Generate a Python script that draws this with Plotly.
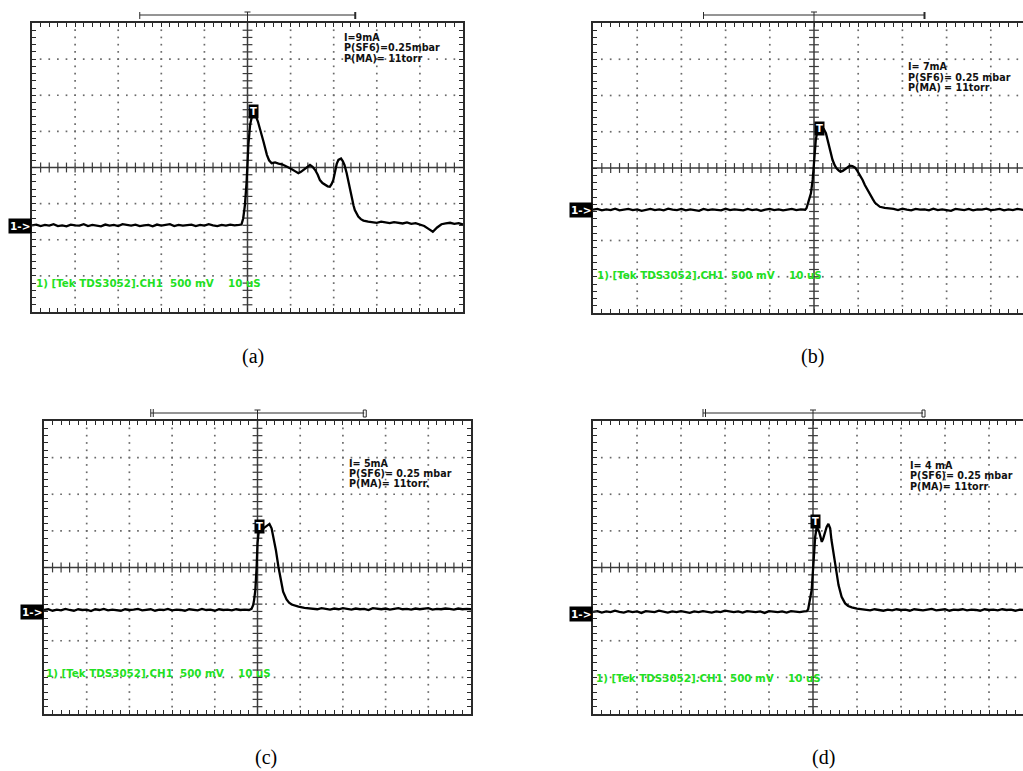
import plotly.graph_objects as go

W, H = 1023, 771

# ---------------- data (screen divisions: x 0..10 div = 10 uS/div, y -4..4 div = 500 mV/div) ----------------
# panel (a)  I = 9 mA
a_pre = [-1.60, -1.58, -1.62, -1.59, -1.61, -1.57, -1.62, -1.60, -1.63, -1.58, -1.60, -1.61, -1.57, -1.62,
         -1.59, -1.60, -1.63, -1.58, -1.61, -1.59, -1.62, -1.57, -1.60, -1.61, -1.58, -1.62, -1.60, -1.59,
         -1.63, -1.58, -1.61, -1.60, -1.57, -1.62, -1.59, -1.61, -1.60, -1.58, -1.62, -1.59, -1.61, -1.57,
         -1.60, -1.62, -1.59, -1.61, -1.58, -1.60, -1.59]
a_pulse_t = [4.86, 4.90, 4.94, 4.98, 5.02, 5.06, 5.10, 5.14, 5.19, 5.24, 5.29, 5.37, 5.45, 5.50, 5.56, 5.64,
             5.72, 5.80, 5.87, 5.95, 6.02, 6.10, 6.18, 6.24, 6.29, 6.37, 6.45, 6.51, 6.57, 6.63, 6.68, 6.74,
             6.80, 6.86, 6.91, 6.95, 6.99, 7.03, 7.07, 7.11, 7.17, 7.21, 7.25, 7.30, 7.34, 7.38, 7.42, 7.46,
             7.49, 7.53, 7.57, 7.63, 7.69, 7.80]
a_pulse_v = [-1.58, -1.41, -1.04, -0.39, 0.62, 1.18, 1.40, 1.45, 1.43, 1.28, 1.09, 0.72, 0.35, 0.20, 0.12, 0.14,
             0.11, 0.09, 0.05, 0.01, -0.04, -0.10, -0.16, -0.12, -0.07, 0.01, 0.07, 0.02, -0.07, -0.20, -0.35, -0.43,
             -0.48, -0.52, -0.53, -0.46, -0.35, -0.07, 0.10, 0.21, 0.25, 0.18, 0.07, -0.15, -0.39, -0.62, -0.85, -1.05,
             -1.18, -1.28, -1.36, -1.43, -1.47, -1.50]
a_post_start = 7.9
a_post = [-1.51, -1.53, -1.50, -1.52, -1.54, -1.51, -1.53, -1.55, -1.52, -1.56, -1.54, -1.58, -1.62, -1.70,
          -1.78, -1.66, -1.57, -1.55, -1.53, -1.56, -1.54, -1.58]

# panel (b)  I = 7 mA
b_pre = [-1.15, -1.13, -1.17, -1.14, -1.16, -1.12, -1.17, -1.15, -1.13, -1.16, -1.14, -1.18, -1.15, -1.13,
         -1.16, -1.14, -1.17, -1.12, -1.15, -1.16, -1.13, -1.17, -1.14, -1.15, -1.18, -1.13, -1.16, -1.14,
         -1.15, -1.17, -1.12, -1.16, -1.14, -1.15, -1.17, -1.13, -1.16, -1.14, -1.18, -1.15, -1.13, -1.16,
         -1.14, -1.17, -1.15, -1.13, -1.16, -1.14, -1.15]
b_pulse_t = [4.83, 4.87, 4.89, 4.93, 4.97, 5.00, 5.04, 5.08, 5.13, 5.17, 5.22, 5.27, 5.35, 5.42, 5.47, 5.51,
             5.56, 5.60, 5.65, 5.70, 5.75, 5.81, 5.87, 5.93, 5.98, 6.04, 6.10, 6.15, 6.21, 6.27, 6.33, 6.38,
             6.44, 6.49, 6.60, 6.72]
b_pulse_v = [-1.11, -0.95, -0.88, -0.70, -0.33, 0.22, 0.77, 1.05, 1.13, 1.14, 1.08, 0.96, 0.59, 0.22, 0.07, -0.01,
             -0.07, -0.10, -0.08, -0.03, 0.02, 0.06, 0.05, 0.01, -0.08, -0.19, -0.33, -0.47, -0.61, -0.74, -0.86, -0.96,
             -1.03, -1.07, -1.10, -1.11]
b_post_start = 6.8
b_post = [-1.13, -1.16, -1.12, -1.15, -1.17, -1.13, -1.15, -1.14, -1.17, -1.12, -1.16, -1.14, -1.15, -1.18,
          -1.13, -1.15, -1.16, -1.13, -1.17, -1.14, -1.15, -1.12, -1.16, -1.15, -1.13, -1.17, -1.14, -1.16,
          -1.13, -1.15, -1.17]

# panel (c)  I = 5 mA
c_pre = [-1.16, -1.14, -1.18, -1.15, -1.17, -1.13, -1.16, -1.18, -1.14, -1.16, -1.15, -1.19, -1.14, -1.16,
         -1.13, -1.17, -1.15, -1.16, -1.18, -1.14, -1.16, -1.15, -1.13, -1.17, -1.16, -1.14, -1.18, -1.15,
         -1.16, -1.13, -1.17, -1.15, -1.16, -1.18, -1.14, -1.15, -1.17, -1.13, -1.16, -1.15, -1.18, -1.14,
         -1.16, -1.15, -1.17, -1.14, -1.16, -1.15, -1.16]
c_pulse_t = [4.86, 4.90, 4.92, 4.95, 4.98, 5.00, 5.04, 5.09, 5.14, 5.21, 5.28, 5.33, 5.37, 5.43, 5.49, 5.54,
             5.60, 5.68, 5.74, 5.80, 5.88, 5.96, 6.10, 6.23]
c_pulse_v = [-1.13, -1.02, -0.89, -0.61, 0.02, 0.66, 1.11, 1.12, 1.07, 1.13, 1.19, 1.07, 0.84, 0.48, 0.02, -0.34,
             -0.66, -0.87, -0.96, -1.01, -1.05, -1.07, -1.10, -1.11]
c_post_start = 6.3
c_post = [-1.12, -1.14, -1.11, -1.13, -1.15, -1.12, -1.14, -1.11, -1.13, -1.15, -1.12, -1.14, -1.13, -1.16,
          -1.11, -1.13, -1.14, -1.12, -1.15, -1.13, -1.11, -1.14, -1.13, -1.15, -1.12, -1.14, -1.13, -1.11,
          -1.15, -1.13, -1.14, -1.12, -1.13, -1.15, -1.12, -1.14, -1.13, -1.14]

# panel (d)  I = 4 mA
d_pre = [-1.21, -1.19, -1.23, -1.20, -1.22, -1.18, -1.21, -1.23, -1.19, -1.22, -1.20, -1.24, -1.19, -1.21,
         -1.22, -1.18, -1.21, -1.23, -1.20, -1.22, -1.19, -1.21, -1.24, -1.20, -1.22, -1.19, -1.21, -1.23,
         -1.20, -1.22, -1.18, -1.21, -1.22, -1.20, -1.23, -1.19, -1.21, -1.22, -1.20, -1.24, -1.19, -1.21,
         -1.22, -1.20, -1.23, -1.19, -1.21, -1.22, -1.20]
d_pulse_t = [4.86, 4.89, 4.93, 4.97, 5.01, 5.05, 5.08, 5.11, 5.14, 5.17, 5.20, 5.23, 5.26, 5.31, 5.35, 5.39,
             5.42, 5.48, 5.52, 5.58, 5.65, 5.73, 5.80, 5.88, 6.00, 6.11]
d_pulse_v = [-1.19, -1.14, -0.89, -0.61, 0.11, 0.84, 1.07, 1.05, 0.98, 0.85, 0.70, 0.78, 0.89, 1.11, 1.19, 1.07,
             0.75, 0.30, -0.11, -0.48, -0.80, -0.98, -1.05, -1.09, -1.12, -1.14]
d_post_start = 6.2
d_post = [-1.15, -1.17, -1.14, -1.16, -1.18, -1.15, -1.17, -1.14, -1.16, -1.15, -1.18, -1.14, -1.16, -1.17,
          -1.15, -1.13, -1.17, -1.16, -1.14, -1.18, -1.15, -1.16, -1.14, -1.17, -1.15, -1.16, -1.18, -1.14,
          -1.16, -1.15, -1.17, -1.14, -1.16, -1.15, -1.18, -1.15, -1.16]

info_a = ["I=9mA", "P(SF6)=0.25mbar", "P(MA)= 11torr"]
info_b = ["I= 7mA", "P(SF6)= 0.25 mbar", "P(MA) = 11torr"]
info_c = ["I= 5mA", "P(SF6)= 0.25 mbar", "P(MA)= 11torr."]
info_d = ["I= 4 mA", "P(SF6)= 0.25 mbar", "P(MA)= 11torr"]
scope_text = "1) [Tek TDS3052].CH1&nbsp; 500 mV&nbsp;&nbsp;&nbsp; 10 uS"
panel_labels = ["(a)", "(b)", "(c)", "(d)"]
ground_levels = [-1.63, -1.16, -1.22, -1.27]
trigger_marks = [(5.14, 1.54), (5.12, 1.10), (5.04, 1.11), (5.06, 1.26)]


def series(pre, pt, pv, post_start, post):
    t = [round(0.1 * i, 2) for i in range(len(pre))] + list(pt) + \
        [round(post_start + 0.1 * i, 2) for i in range(len(post))]
    v = list(pre) + list(pv) + list(post)
    return t, v


waves = [series(a_pre, a_pulse_t, a_pulse_v, a_post_start, a_post),
         series(b_pre, b_pulse_t, b_pulse_v, b_post_start, b_post),
         series(c_pre, c_pulse_t, c_pulse_v, c_post_start, c_post),
         series(d_pre, d_pulse_t, d_pulse_v, d_post_start, d_post)]

# ---------------- layout geometry (pixels) ----------------
geo = [
    dict(left=32, right=463, top=23, bottom=312, xmax=10.0, full=True,
         info_x=7.22, info_y=3.60, green=(0.07, -3.2), lab=(253, 356), bar="a"),
    dict(left=593, right=1023, top=23, bottom=313, xmax=430 / 44.2, full=False,
         info_x=7.10, info_y=2.79, green=(0.07, -2.95), lab=(812, 356), bar="a"),
    dict(left=44, right=471, top=421, bottom=714, xmax=10.0, full=True,
         info_x=7.12, info_y=2.85, green=(0.02, -2.88), lab=(266, 757), bar="c"),
    dict(left=593, right=1023, top=421, bottom=714, xmax=430 / 44.0, full=False,
         info_x=7.18, info_y=2.78, green=(0.05, -3.02), lab=(823, 757), bar="c"),
]
infos = [info_a, info_b, info_c, info_d]

BORDER = "#2a2a2a"
CENTER = "#3a3a3a"
DOT = "#6a6a6a"
SANS = "DejaVu Sans, Arial, sans-serif"
LINE_PX = 10.3   # spacing of the info text lines, pixels

fig = go.Figure()
shapes = []
annotations = []


def px(p):
    return p / W


def py(p):
    return 1 - p / H


for i, g in enumerate(geo):
    k = "" if i == 0 else str(i + 1)
    xa, ya = "x" + k, "y" + k
    xmax = g["xmax"]
    divh = (g["bottom"] - g["top"]) / 8.0

    # dotted graticule
    dx, dy = [], []
    for yl in [-3, -2, -1, 1, 2, 3]:
        for j in range(1, 50):
            dx.append(0.2 * j)
            dy.append(yl)
    for xl in [1, 2, 3, 4, 6, 7, 8, 9]:
        for j in range(1, 40):
            dx.append(xl)
            dy.append(-4 + 0.2 * j)
    fig.add_trace(go.Scatter(x=dx, y=dy, mode="markers", xaxis=xa, yaxis=ya,
                             marker=dict(symbol="square", size=1.7, color=DOT, line=dict(width=0)),
                             hoverinfo="skip", showlegend=False))
    # centre cross ticks
    tx = [0.2 * j for j in range(1, 50)]
    fig.add_trace(go.Scatter(x=tx, y=[0] * len(tx), mode="markers", xaxis=xa, yaxis=ya,
                             marker=dict(symbol="line-ns", size=7, line=dict(width=1.2, color=CENTER)),
                             hoverinfo="skip", showlegend=False))
    ty = [-4 + 0.2 * j for j in range(1, 40)]
    fig.add_trace(go.Scatter(x=[5] * len(ty), y=ty, mode="markers", xaxis=xa, yaxis=ya,
                             marker=dict(symbol="line-ew", size=7, line=dict(width=1.2, color=CENTER)),
                             hoverinfo="skip", showlegend=False))
    # waveform
    t, v = waves[i]
    fig.add_trace(go.Scatter(x=t, y=v, mode="lines", xaxis=xa, yaxis=ya,
                             line=dict(color="#000000", width=2.3), hoverinfo="skip", showlegend=False))

    axcommon = dict(showgrid=False, zeroline=False, showline=True, linecolor=BORDER, linewidth=1.5,
                    ticks="inside", ticklen=4, tickwidth=1, tickcolor=BORDER, showticklabels=False,
                    dtick=1, tick0=0, fixedrange=True,
                    minor=dict(ticks="inside", ticklen=4, tickwidth=1, tickcolor=BORDER, dtick=0.2, tick0=0,
                               showgrid=False))
    fig.update_layout(**{
        ("xaxis" + k): dict(axcommon, domain=[px(g["left"]), px(g["right"])], range=[0, xmax],
                            anchor=ya, mirror="allticks"),
        ("yaxis" + k): dict(axcommon, domain=[py(g["bottom"]), py(g["top"])], range=[-4, 4],
                            anchor=xa, mirror="allticks" if g["full"] else False),
    })

    # centre lines
    shapes.append(dict(type="line", xref=xa, yref=ya, x0=5, x1=5, y0=-4, y1=4, layer="below",
                       line=dict(color=CENTER, width=1.5)))
    shapes.append(dict(type="line", xref=xa, yref=ya, x0=0, x1=xmax, y0=0, y1=0, layer="below",
                       line=dict(color=CENTER, width=1.5)))

    # trigger position bar above graticule
    divw = (g["right"] - g["left"]) / xmax
    xl = g["left"] + 2.5 * divw
    xr = g["left"] + 7.5 * divw
    xc = g["left"] + 5.0 * divw
    yb = g["top"] - 8
    shapes.append(dict(type="line", xref="paper", yref="paper", x0=px(xl), x1=px(xr), y0=py(yb), y1=py(yb),
                       line=dict(color=BORDER, width=1)))
    shapes.append(dict(type="line", xref="paper", yref="paper", x0=px(xc), x1=px(xc), y0=py(yb - 3),
                       y1=py(g["top"]), line=dict(color=BORDER, width=1)))
    shapes.append(dict(type="line", xref="paper", yref="paper", x0=px(xc - 3), x1=px(xc + 3), y0=py(yb - 3),
                       y1=py(yb - 3), line=dict(color=BORDER, width=1)))
    if g["bar"] == "a":
        shapes.append(dict(type="line", xref="paper", yref="paper", x0=px(xl), x1=px(xl), y0=py(yb - 3),
                           y1=py(yb + 4), line=dict(color=BORDER, width=1)))
        shapes.append(dict(type="line", xref="paper", yref="paper", x0=px(xr), x1=px(xr), y0=py(yb - 3),
                           y1=py(yb + 4), line=dict(color=BORDER, width=2)))
    else:
        for off in (0, 2.5):
            shapes.append(dict(type="line", xref="paper", yref="paper", x0=px(xl + off), x1=px(xl + off),
                               y0=py(yb - 4), y1=py(yb + 4), line=dict(color=BORDER, width=1)))
        shapes.append(dict(type="rect", xref="paper", yref="paper", x0=px(xr - 1), x1=px(xr + 2),
                           y0=py(yb - 3), y1=py(yb + 4), line=dict(color=BORDER, width=1)))

    # info text (three lines)
    for n, line in enumerate(infos[i]):
        annotations.append(dict(xref=xa, yref=ya, x=g["info_x"], y=g["info_y"] - n * LINE_PX / divh,
                                text="<b>%s</b>" % line,
                                showarrow=False, xanchor="left", yanchor="middle", borderpad=0,
                                font=dict(family=SANS, size=9.6, color="#111111")))
    # scope caption (green)
    annotations.append(dict(xref=xa, yref=ya, x=g["green"][0], y=g["green"][1], text="<b>%s</b>" % scope_text,
                            showarrow=False, xanchor="left", yanchor="middle", borderpad=0,
                            font=dict(family=SANS, size=10.3, color="#22e022")))
    # trigger marker
    tm = trigger_marks[i]
    annotations.append(dict(xref=xa, yref=ya, x=tm[0], y=tm[1], text="<b>T</b>", showarrow=False,
                            xanchor="center", yanchor="middle", bgcolor="#000000", borderpad=1,
                            font=dict(family=SANS, size=10, color="#ffffff")))
    # ground reference marker
    annotations.append(dict(xref=xa, yref=ya, x=0, y=ground_levels[i], text="<b>1-></b>", showarrow=False,
                            xanchor="right", yanchor="middle", bgcolor="#000000", borderpad=1,
                            font=dict(family=SANS, size=10.5, color="#ffffff")))
    # panel label
    annotations.append(dict(xref="paper", yref="paper", x=px(g["lab"][0]), y=py(g["lab"][1]),
                            text=panel_labels[i], showarrow=False, xanchor="center", yanchor="middle",
                            font=dict(family="Liberation Serif, Times New Roman, serif", size=20,
                                      color="#000000")))

fig.update_layout(width=W, height=H, margin=dict(l=0, r=0, t=0, b=0),
                  paper_bgcolor="#ffffff", plot_bgcolor="#ffffff",
                  shapes=shapes, annotations=annotations, showlegend=False)

fig.write_html("out.html")
